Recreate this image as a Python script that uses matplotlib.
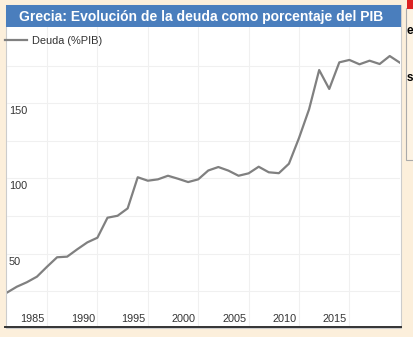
import matplotlib
matplotlib.use("Agg")
import matplotlib.pyplot as plt
from matplotlib.patches import Rectangle
from matplotlib.lines import Line2D

# datos
anios = list(range(1981, 2021))
deuda = [23.9, 27.9, 30.9, 34.6, 41.2, 47.5, 47.9, 52.8, 57.4, 60.5,
         73.8, 75.1, 80.0, 100.7, 98.4, 99.3, 101.7, 99.7, 97.5, 99.3,
         105.2, 107.5, 105.1, 101.7, 103.3, 107.7, 104.0, 103.4, 109.7, 126.8,
         145.9, 172.0, 159.4, 177.1, 178.7, 175.8, 178.2, 176.0, 181.3, 176.9]
ticks_x = [1985, 1990, 1995, 2000, 2005, 2010, 2015]
ticks_y_grid = [25, 50, 75, 100, 125, 150, 175]
ticks_y_label = [50, 100, 150]

W, H = 413, 337
CREMA = "#fcefdb"
AZUL = "#4a7ebd"
GRIS = "#808080"
TXT = "#333333"
FONT = "Liberation Sans"

fig = plt.figure(figsize=(W / 100, H / 100), dpi=100, facecolor=CREMA)

def px(x, y):
    return x / W, 1 - y / H

# panel blanco con borde
x0, y0 = px(5.5, 328)
x1, y1 = px(401, 5)
fig.patches.append(Rectangle((x0, y0), x1 - x0, y1 - y0, transform=fig.transFigure,
                             facecolor="white", edgecolor="#cccccc", lw=0.8, zorder=-2))
# barra del titulo
bx0, by0 = px(6, 27)
bx1, by1 = px(400.5, 5)
fig.patches.append(Rectangle((bx0, by0), bx1 - bx0, by1 - by0, transform=fig.transFigure,
                             facecolor=AZUL, edgecolor="none", zorder=3))
tx, ty = px(201.5, 16.5)
fig.text(tx, ty, "Grecia: Evolución de la deuda como porcentaje del PIB", ha="center", va="center",
         color="white", fontsize=10.0, fontweight="bold", family=FONT, zorder=4)

# caja a la derecha (recortada)
fig.patches.append(Rectangle(px(406, 160), 0.05, (160 - 8) / H, transform=fig.transFigure,
                             facecolor="#fdf3e3", edgecolor="#aaaaaa", lw=0.8, zorder=-2))
fig.patches.append(Rectangle(px(406.5, 8.5), 0.05, 8.5 / H, transform=fig.transFigure,
                             facecolor="#dd2222", edgecolor="none", zorder=-2))
fig.text(*px(406.5, 31), "e", ha="left", va="center", fontsize=8.5, fontweight="bold", family=FONT)
fig.text(*px(406.5, 78), "s", ha="left", va="center", fontsize=8.5, fontweight="bold", family=FONT)

# ejes
ax_l, ax_b = px(6.7, 327.5)
ax_r, ax_t = px(399.8, 27)
ax = fig.add_axes([ax_l, ax_b, ax_r - ax_l, ax_t - ax_b])
ax.set_zorder(1)
ax.set_facecolor("none")
ax.plot(anios, deuda, color=GRIS, lw=1.6, label="Deuda (%PIB)", zorder=3)
ax.set_xlim(1981, 2020)
ax.set_ylim(0.8, 200.6)

ax.set_xticks(ticks_x)
ax.set_xticklabels([])
ax.set_yticks(ticks_y_grid)
ax.set_yticklabels([])
ax.tick_params(length=0)
ax.grid(True, color="#f0f0f0", lw=0.8)
ax.set_axisbelow(True)
for s in ax.spines.values():
    s.set_visible(False)

# etiquetas dentro del area de trazado
for v in ticks_y_label:
    ax.annotate(str(v), xy=(0, v), xycoords=("axes fraction", "data"), xytext=(2.3, -8),
                textcoords="offset pixels", ha="left", va="center", fontsize=7.8, color=TXT, family=FONT)
for t in ticks_x:
    ax.annotate(str(t), xy=(t, 0), xycoords=("data", "axes fraction"), xytext=(-2.3, 8.2),
                textcoords="offset pixels", ha="right", va="center", fontsize=7.8, color=TXT, family=FONT)

# linea base
fig.lines.append(Line2D([5 / W, 401 / W], [1 - 327.3 / H] * 2, transform=fig.transFigure,
                        color="#333333", lw=1.4, zorder=5))

leg = ax.legend(loc="upper left", bbox_to_anchor=px(5, 35.5), bbox_transform=fig.transFigure,
                frameon=False, prop={"family": FONT, "size": 7.9}, handlelength=2.0,
                handletextpad=0.45, borderpad=0, borderaxespad=0)
for t in leg.get_texts():
    t.set_color(TXT)

fig.savefig("out.png", dpi=100, facecolor=CREMA)
